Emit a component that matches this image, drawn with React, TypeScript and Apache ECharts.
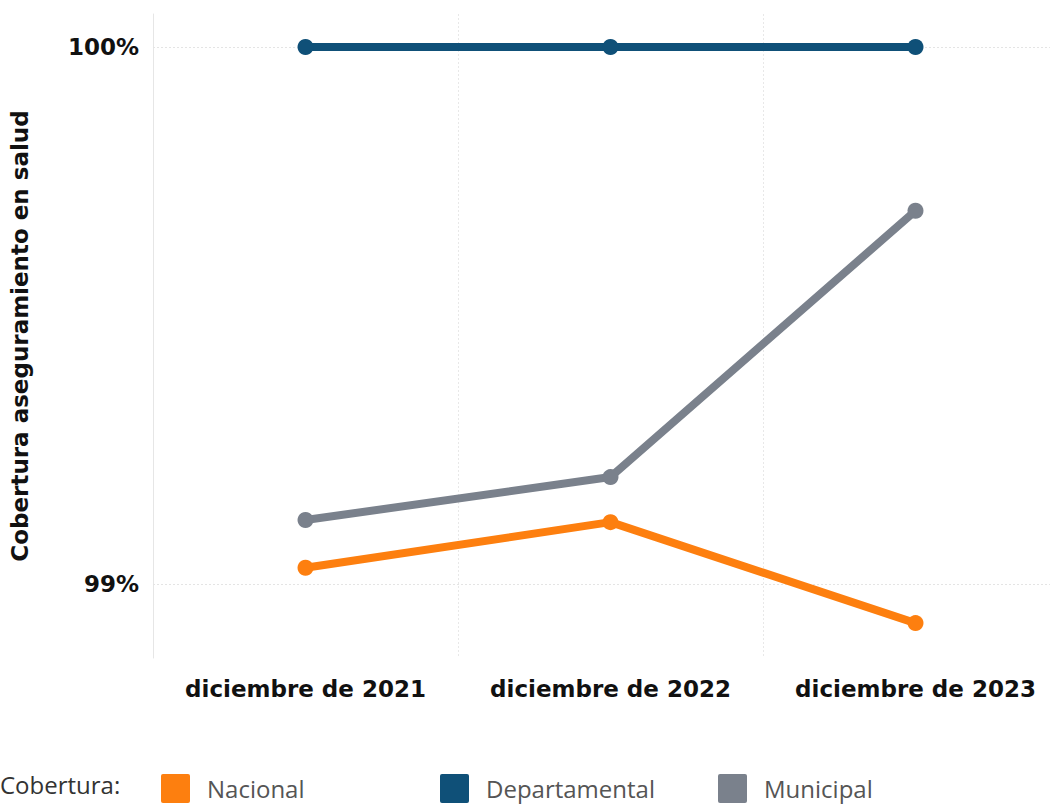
import React, { useEffect, useRef } from "react";
import * as echarts from "echarts";

const categories = ["diciembre de 2021", "diciembre de 2022", "diciembre de 2023"];
const nacional = [99.03, 99.115, 98.927];
const departamental = [100, 100, 100];
const municipal = [99.119, 99.199, 99.695];
const yTicks = [99, 100];

const colors = { nacional: "#fd7f0f", departamental: "#0f5078", municipal: "#7a818c" };
const BOLD = "'DejaVu Sans', sans-serif";
const REG = "'Open Sans', 'Noto Sans', sans-serif";

export default function App() {
  const ref = useRef<HTMLDivElement>(null);
  useEffect(() => {
    const chart = echarts.init(ref.current!, null, { renderer: "svg" });
    const mk = (name: string, data: number[], color: string) => ({
      name,
      type: "line",
      data,
      color,
      lineStyle: { width: 8, color },
      itemStyle: { color },
      symbol: "circle",
      symbolSize: 16,
      z: 3,
    });
    const legendItem = (name: string, left: number) => ({
      left,
      top: 774,
      padding: 0,
      itemWidth: 29,
      itemHeight: 29,
      icon: "path://M2,0 L27,0 Q29,0 29,2 L29,27 Q29,29 27,29 L2,29 Q0,29 0,27 L0,2 Q0,0 2,0 Z",
      data: [name],
      textStyle: { fontFamily: REG, fontSize: 24, color: "#555", padding: [0, 0, 0, 12] },
      selectedMode: false,
    });
    chart.setOption({
      animation: false,
      grid: { left: 150, top: 14, right: 0, height: 644, containLabel: false },
      xAxis: {
        type: "category",
        data: categories,
        boundaryGap: true,
        axisLine: { show: false },
        axisTick: { show: false },
        axisLabel: {
          interval: 0,
          hideOverlap: false,
          fontFamily: BOLD,
          fontSize: 23,
          fontWeight: "bold",
          color: "#111",
          margin: 19,
        },
        splitLine: { show: true, interval: 0, lineStyle: { color: "#e8e8e8", type: [2, 2], width: 1 } },
      },
      yAxis: {
        type: "value",
        min: 98.862,
        max: 100.0615,
        name: "Cobertura aseguramiento en salud",
        nameLocation: "middle",
        nameGap: 122,
        nameTextStyle: { fontFamily: BOLD, fontSize: 23, fontWeight: "bold", color: "#111" },
        axisLine: { show: true, lineStyle: { color: "#e6e6e6", width: 1 } },
        axisTick: { show: false },
        splitLine: { show: false },
        axisLabel: {
          customValues: yTicks,
          fontFamily: BOLD,
          fontSize: 23,
          fontWeight: "bold",
          color: "#111",
          margin: 14,
          formatter: (v: number) => `${Math.round(v)}%`,
        },
      },
      legend: [
        legendItem("Nacional", 161),
        legendItem("Departamental", 440),
        legendItem("Municipal", 718),
      ],
      graphic: [
        {
          type: "text",
          left: 0,
          top: 772,
          style: { text: "Cobertura:", fontFamily: REG, fontSize: 24, fill: "#333" },
        },
      ],
      series: [
        {
          ...mk("Nacional", nacional, colors.nacional),
          markLine: {
            silent: true,
            symbol: "none",
            label: { show: false },
            lineStyle: { color: "#e4e4e4", type: [2, 2], width: 1 },
            data: yTicks.map((v) => ({ yAxis: v })),
            z: 1,
          },
        },
        mk("Departamental", departamental, colors.departamental),
        mk("Municipal", municipal, colors.municipal),
      ],
    });
    return () => chart.dispose();
  }, []);
  return (
    <div style={{ width: 1050, height: 806, position: "absolute", left: 0, top: 0, overflow: "hidden" }}>
      <div ref={ref} style={{ width: 1068, height: 806 }} />
    </div>
  );
}
